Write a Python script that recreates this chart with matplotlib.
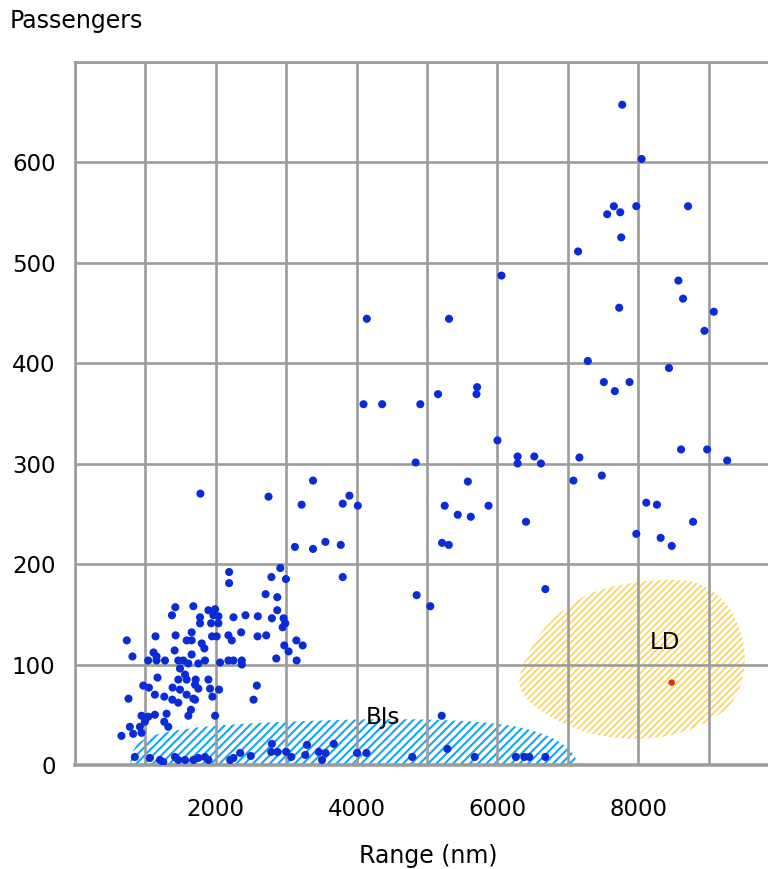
import numpy as np
import matplotlib
matplotlib.use("Agg")
import matplotlib.pyplot as plt
from matplotlib.path import Path
from matplotlib.patches import PathPatch

plt.rcParams['font.family'] = ['DejaVu Sans']

# ---- data: range (nm) and passengers of aircraft models ----
range_nm = [
    7773, 8048, 7654, 7560, 7745, 7973, 8708, 7759, 7146, 8571, 8637, 7730, 9074, 8941,
    7284, 8437, 7512, 7877, 7668, 8609, 8979, 9264, 7165, 6619, 7080, 7483, 8115, 8266,
    8779, 7973, 8319, 8476,
    6058, 4145, 5313, 4098, 4363, 4905, 5157, 5712, 5703, 6001, 6287, 6287, 6524, 4839,
    3381, 3219, 3803, 3898, 4017, 5580, 5252, 5437, 5622, 5874, 6406, 3124, 3381, 3557,
    3775, 5214, 5309, 3803, 4853, 5047, 6681, 2916, 2996, 1781, 2749,
    2189, 2189, 2790, 2707, 2873, 1425, 1681, 1377, 1895, 1990, 1966, 2037, 1776, 1776,
    1933, 2037, 2251, 2422, 2597, 2797, 2873, 2963, 2987, 2949, 1657, 1429, 1144, 1947,
    2013, 2179, 2227, 2360, 2593, 2716, 736, 1586, 1657, 1800, 1838, 1415, 1115, 1158,
    1657, 2973, 3144, 3234, 3034, 2859, 3148, 816, 1040, 1158, 1278, 1467, 1538, 1491,
    1610, 1752, 1847, 2061, 2179, 2251, 2369, 2369, 1172, 969, 1050, 1467, 1563, 1586,
    1714, 1705, 1752, 1895, 1919, 2046, 1386, 1491, 1586, 1681, 760, 1135, 1268, 1382,
    1467, 1952, 1706, 2583, 2536, 1647, 1610, 1990, 1301, 945, 1040, 1135, 1268, 1325,
    992, 779, 826, 922, 945, 660,
    850, 1064, 1207, 1254, 1420, 1467, 1563, 1681, 1752, 1847, 1895, 2204, 2251, 2346,
    2497, 2797, 2788, 2877, 3001, 3073, 3295, 3271, 3462, 3557, 3509, 3675, 4007, 4140,
    4791, 5209, 5289, 5679, 6263, 6382, 6453, 6681,
]
passengers = [
    657, 603, 556, 548, 550, 556, 556, 525, 511, 482, 464, 455, 451, 432,
    402, 395, 381, 381, 372, 314, 314, 303, 306, 300, 283, 288, 261, 259,
    242, 230, 226, 218,
    487, 444, 444, 359, 359, 359, 369, 376, 369, 323, 307, 300, 307, 301,
    283, 259, 260, 268, 258, 282, 258, 249, 247, 258, 242, 217, 215, 222,
    219, 221, 219, 187, 169, 158, 175, 196, 185, 270, 267,
    192, 181, 187, 170, 167, 157, 158, 149, 154, 155, 149, 148, 147, 141,
    141, 141, 147, 149, 148, 146, 154, 146, 141, 137, 132, 129, 128, 128,
    128, 129, 124, 132, 128, 129, 124, 124, 124, 121, 116, 114, 112, 108,
    110, 119, 124, 119, 113, 106, 104, 108, 104, 104, 104, 104, 104, 96,
    101, 101, 104, 102, 104, 104, 104, 100, 87, 79, 77, 85, 90, 85,
    85, 80, 76, 85, 76, 75, 77, 75, 70, 66, 66, 70, 68, 65,
    62, 68, 65, 79, 65, 55, 49, 49, 51, 49, 48, 50, 43, 38,
    43, 38, 31, 38, 32, 29,
    8, 7, 5, 3, 8, 5, 5, 5, 7, 8, 5, 5, 7, 12,
    9, 21, 13, 13, 13, 8, 20, 10, 13, 12, 5, 21, 12, 12,
    8, 49, 16, 8, 8, 8, 8, 8,
]
highlight_range = [8476]
highlight_passengers = [82]

# region outlines (data units)
ld_outline_x = [6290, 6590, 7090, 7580, 8310, 8860, 9260, 9490, 9530, 9400, 9050, 8460, 7820, 7170, 6630, 6340]
ld_outline_y = [90, 133, 164, 178, 185, 183, 163, 130, 98, 65, 44, 28, 25, 33, 52, 70]
bj_outline_x = [760, 800, 1000, 1500, 2300, 3300, 4300, 5300, 6100, 6600, 6950, 7150, 7150]
bj_outline_y = [-15, 15, 28, 36, 41, 44, 46, 45, 41, 33, 21, 5, -15]

region_labels = ["BJs", "LD"]
region_label_x = [4370, 8380]
region_label_y = [47, 122]

xtick_vals = list(range(0, 10001, 1000))
xtick_labels = ["", "", "2000", "", "4000", "", "6000", "", "8000", "", ""]
ytick_vals = list(range(0, 701, 100))
ytick_labels = ["0", "100", "200", "300", "400", "500", "600", ""]


def smooth_closed_path(xs, ys):
    pts = np.column_stack([xs, ys]).astype(float)
    n = len(pts)
    mids = (pts + np.roll(pts, -1, axis=0)) / 2.0
    verts = [mids[-1]]
    codes = [Path.MOVETO]
    for i in range(n):
        verts += [pts[i], mids[i]]
        codes += [Path.CURVE3, Path.CURVE3]
    verts.append(mids[-1])
    codes.append(Path.CLOSEPOLY)
    return Path(np.array(verts), codes)


fig = plt.figure(figsize=(7.68, 8.69), dpi=100)
W, H = 768, 869
ax = fig.add_axes([75 / W, 104 / H, 704 / W, 703.5 / H])
ax.set_xlim(0, 10000)
ax.set_ylim(0, 700)

grid_col = '#9c9c9c'
ax.set_xticks(xtick_vals)
ax.set_xticklabels(xtick_labels)
ax.set_yticks(ytick_vals)
ax.set_yticklabels(ytick_labels)
ax.tick_params(length=0, labelsize=16.5, colors='black')
ax.tick_params(axis='x', pad=24)
ax.tick_params(axis='y', pad=14)
ax.grid(True, color=grid_col, linewidth=1.9, zorder=0.5)
ax.set_axisbelow(True)
for s in ax.spines.values():
    s.set_color(grid_col)
    s.set_linewidth(1.9)
ax.spines['bottom'].set_linewidth(2.6)

# hatched regions
plt.rcParams['hatch.linewidth'] = 1.5
bj = PathPatch(smooth_closed_path(bj_outline_x, bj_outline_y), facecolor='none',
               edgecolor='#12a6f2', linewidth=0, hatch='////', zorder=0.3)
ax.add_patch(bj)
plt.rcParams['hatch.linewidth'] = 1.2
ld = PathPatch(smooth_closed_path(ld_outline_x, ld_outline_y), facecolor='none',
               edgecolor='#f9d45a', linewidth=0, hatch='/////', zorder=0.3)
ax.add_patch(ld)
try:
    bj.set_hatch_linewidth(1.5)
    ld.set_hatch_linewidth(1.2)
except Exception:
    pass

ax.scatter(range_nm, passengers, s=34, color='#0a2bd8', edgecolors='none', zorder=3)
ax.scatter(highlight_range, highlight_passengers, s=22, color='#e82a10', edgecolors='none', zorder=3)

for lab, lx, ly in zip(region_labels, region_label_x, region_label_y):
    ax.text(lx, ly, lab, fontsize=16.5, ha='center', va='center', zorder=4)

fig.text(10 / W, 1 - 21 / H, "Passengers", fontsize=17, ha='left', va='center')
fig.text(428 / W, 1 - 856 / H, "Range (nm)", fontsize=17, ha='center', va='center')

fig.savefig('out.png', dpi=100)
